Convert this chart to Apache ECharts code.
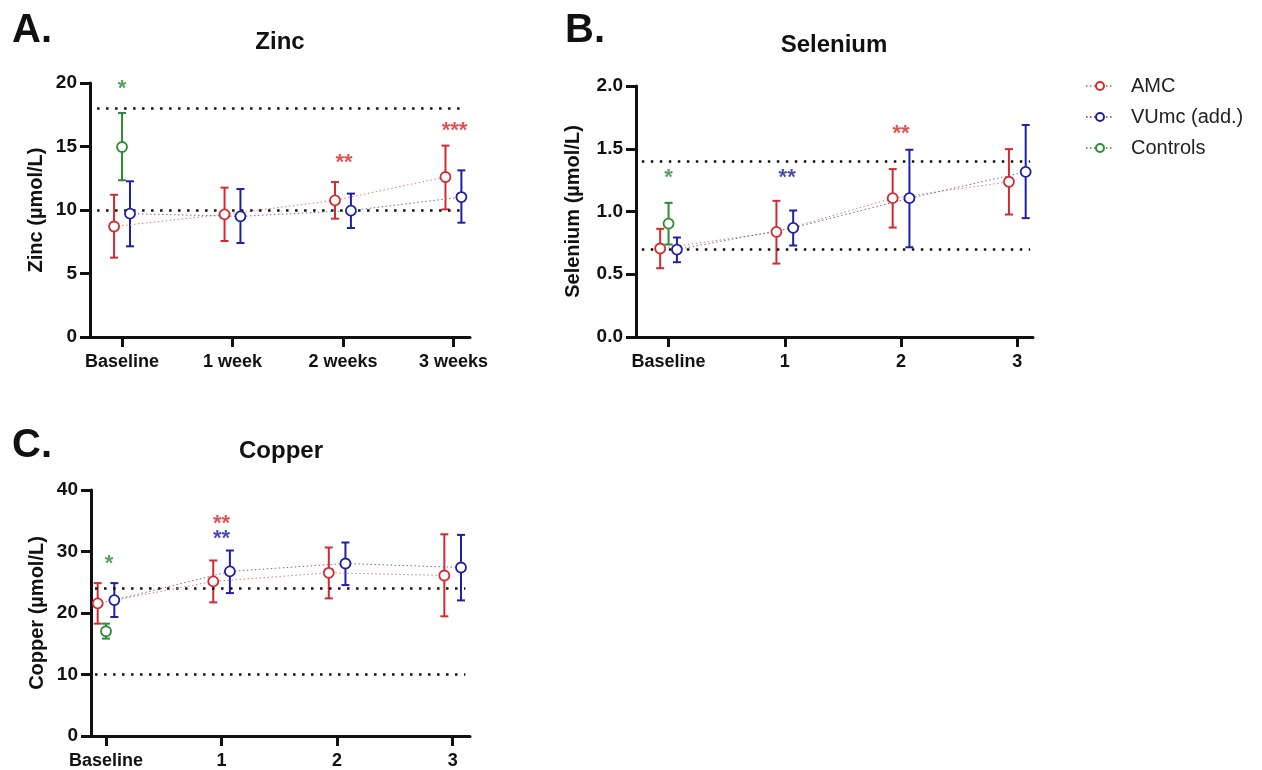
<!DOCTYPE html>
<html>
<head>
<meta charset="utf-8">
<script src="https://cdn.jsdelivr.net/npm/echarts@6/dist/echarts.min.js"></script>
<style>
  html, body { margin: 0; background: #fff; }
  #main { width: 1262px; height: 770px; }
</style>
</head>
<body>
<div id="main"></div>
<script>
var zincLabels = ['Baseline', '1 week', '2 weeks', '3 weeks'];
var weekLabels = ['Baseline', '1', '2', '3'];

// Zinc (umol/L): mean and error bar ends
var zincAMC = [8.7, 9.66, 10.76, 12.6];
var zincAMCLow = [6.25, 7.56, 9.32, 10.05];
var zincAMCHigh = [11.2, 11.76, 12.2, 15.07];
var zincVU = [9.71, 9.5, 9.95, 11.02];
var zincVULow = [7.14, 7.4, 8.58, 9.0];
var zincVUHigh = [12.26, 11.65, 11.29, 13.12];
var zincCtrl = [14.96];
var zincCtrlLow = [12.34];
var zincCtrlHigh = [17.64];
var zincRef = [10, 18];
// [position, y, text, group]
var zincStars = [[0, 19.9, '*', 'ctrl'], [2.01, 14.1, '**', 'amc'], [3.01, 16.6, '***', 'amc']];

// Selenium (umol/L)
var seAMC = [0.705, 0.838, 1.106, 1.237];
var seAMCLow = [0.548, 0.585, 0.872, 0.976];
var seAMCHigh = [0.862, 1.085, 1.338, 1.497];
var seVU = [0.697, 0.87, 1.106, 1.316];
var seVULow = [0.596, 0.729, 0.715, 0.947];
var seVUHigh = [0.793, 1.008, 1.492, 1.689];
var seCtrl = [0.904];
var seCtrlLow = [0.737];
var seCtrlHigh = [1.069];
var seRef = [0.7, 1.4];
var seStars = [[0, 1.31, '*', 'ctrl'], [1.02, 1.31, '**', 'vu'], [2.0, 1.654, '**', 'amc']];

// Copper (umol/L)
var cuAMC = [21.57, 25.14, 26.54, 26.1];
var cuAMCLow = [18.27, 21.73, 22.38, 19.46];
var cuAMCHigh = [24.86, 28.54, 30.65, 32.8];
var cuVU = [22.1, 26.76, 28.05, 27.4];
var cuVULow = [19.35, 23.24, 24.54, 22.05];
var cuVUHigh = [24.86, 30.16, 31.46, 32.7];
var cuCtrl = [17.03];
var cuCtrlLow = [15.84];
var cuCtrlHigh = [18.27];
var cuRef = [10, 24];
var cuStars = [[0.026, 28.76, '*', 'ctrl'], [1.0, 35.24, '**', 'amc'], [1.0, 32.86, '**', 'vu']];

var FONT = 'Arial, "Liberation Sans", Helvetica, sans-serif';
var INK = '#111';
var colors = { amc: '#d42a2f', vu: '#1f1fa6', ctrl: '#2e8a36' };
var lineColors = { amc: '#d48080', vu: '#7070a0', ctrl: '#6aa06a' };
var OFF = 0.072;

var panels = [
    { grid: { left: 90, top: 83, width: 380, height: 254 }, xMin: -0.29, xMax: 3.15, yMax: 20, step: 5, digits: 0,
      labels: zincLabels, yName: 'Zinc (µmol/L)', nameGap: 44, refSpan: [-0.226, 3.1], ref: zincRef, stars: zincStars,
      amc: [zincAMC, zincAMCLow, zincAMCHigh], vu: [zincVU, zincVULow, zincVUHigh], ctrl: [zincCtrl, zincCtrlLow, zincCtrlHigh] },
    { grid: { left: 636, top: 86, width: 397, height: 251 }, xMin: -0.28, xMax: 3.135, yMax: 2, step: 0.5, digits: 1,
      labels: weekLabels, yName: 'Selenium (µmol/L)', nameGap: 53, refSpan: [-0.23, 3.11], ref: seRef, stars: seStars,
      amc: [seAMC, seAMCLow, seAMCHigh], vu: [seVU, seVULow, seVUHigh], ctrl: [seCtrl, seCtrlLow, seCtrlHigh] },
    { grid: { left: 91, top: 490, width: 379, height: 247 }, xMin: -0.13, xMax: 3.15, yMax: 40, step: 10, digits: 0,
      labels: weekLabels, yName: 'Copper (µmol/L)', nameGap: 44, refSpan: [-0.095, 3.11], ref: cuRef, stars: cuStars,
      amc: [cuAMC, cuAMCLow, cuAMCHigh], vu: [cuVU, cuVULow, cuVUHigh], ctrl: [cuCtrl, cuCtrlLow, cuCtrlHigh] }
];

function errorBars(idx, xs, lows, highs, color) {
    return {
        type: 'custom',
        xAxisIndex: idx,
        yAxisIndex: idx,
        z: 3,
        silent: true,
        data: xs.map(function (x, i) { return [x, lows[i], highs[i]]; }),
        encode: { x: 0, y: [1, 2] },
        renderItem: function (params, api) {
            var top = api.coord([api.value(0), api.value(2)]);
            var bot = api.coord([api.value(0), api.value(1)]);
            var w = 4;
            var st = { stroke: color, lineWidth: 2 };
            return {
                type: 'group',
                children: [
                    { type: 'line', shape: { x1: top[0], y1: top[1], x2: bot[0], y2: bot[1] }, style: st },
                    { type: 'line', shape: { x1: top[0] - w, y1: top[1], x2: top[0] + w, y2: top[1] }, style: st },
                    { type: 'line', shape: { x1: bot[0] - w, y1: bot[1], x2: bot[0] + w, y2: bot[1] }, style: st }
                ]
            };
        }
    };
}

function meanLine(idx, name, xs, means, key) {
    return {
        type: 'line',
        name: name,
        xAxisIndex: idx,
        yAxisIndex: idx,
        z: 5,
        silent: true,
        data: xs.map(function (x, i) { return [x, means[i]]; }),
        symbol: 'circle',
        symbolSize: 10,
        itemStyle: { color: '#fff', borderColor: colors[key], borderWidth: 1.8 },
        lineStyle: { color: lineColors[key], width: 1, type: [1.5, 2.5] }
    };
}

var grids = [], xAxes = [], yAxes = [], series = [];

panels.forEach(function (p, idx) {
    grids.push(p.grid);
    xAxes.push({
        type: 'value', gridIndex: idx, min: p.xMin, max: p.xMax,
        axisLine: { onZero: false, lineStyle: { color: INK, width: 3 } },
        axisTick: { show: true, customValues: [0, 1, 2, 3], length: 10, lineStyle: { color: INK, width: 3 } },
        axisLabel: {
            customValues: [0, 1, 2, 3], margin: 16,
            formatter: function (v) { return p.labels[Math.round(v)]; },
            fontFamily: FONT, fontSize: 18, fontWeight: 'bold', color: INK
        },
        splitLine: { show: false }
    });
    yAxes.push({
        type: 'value', gridIndex: idx, min: 0, max: p.yMax, interval: p.step,
        name: p.yName, nameLocation: 'middle', nameGap: p.nameGap,
        nameTextStyle: { fontFamily: FONT, fontSize: 20, fontWeight: 'bold', color: INK },
        axisLine: { show: true, onZero: false, lineStyle: { color: INK, width: 3 } },
        axisTick: { show: true, length: 10, lineStyle: { color: INK, width: 3 } },
        axisLabel: {
            margin: 13, fontFamily: FONT, fontSize: 19, fontWeight: 'bold', color: INK,
            formatter: function (v) { return v.toFixed(p.digits); }
        },
        splitLine: { show: false }
    });

    // reference range
    series.push({
        type: 'line', xAxisIndex: idx, yAxisIndex: idx, data: [], z: 1,
        markLine: {
            silent: true, symbol: 'none', label: { show: false },
            lineStyle: { color: INK, width: 2.5, type: [2.5, 6.5] },
            data: p.ref.map(function (v) {
                return [{ coord: [p.refSpan[0], v] }, { coord: [p.refSpan[1], v] }];
            })
        }
    });

    var xsA = p.amc[0].map(function (v, i) { return i - OFF; });
    var xsV = p.vu[0].map(function (v, i) { return i + OFF; });
    var xsC = [0];

    series.push(errorBars(idx, xsA, p.amc[1], p.amc[2], colors.amc));
    series.push(errorBars(idx, xsV, p.vu[1], p.vu[2], colors.vu));
    series.push(errorBars(idx, xsC, p.ctrl[1], p.ctrl[2], colors.ctrl));
    series.push(meanLine(idx, 'AMC', xsA, p.amc[0], 'amc'));
    series.push(meanLine(idx, 'VUmc (add.)', xsV, p.vu[0], 'vu'));
    series.push(meanLine(idx, 'Controls', xsC, p.ctrl[0], 'ctrl'));

    // significance stars
    series.push({
        type: 'scatter', xAxisIndex: idx, yAxisIndex: idx, z: 6, silent: true,
        symbolSize: 1, itemStyle: { color: 'rgba(0,0,0,0)' },
        data: p.stars.map(function (s) {
            return { value: [s[0], s[1]], name: s[2], label: { color: colors[s[3]] } };
        }),
        label: {
            show: true, position: 'inside', offset: [0, 5],
            formatter: function (d) { return d.name; },
            fontFamily: FONT, fontSize: 22, fontWeight: 'bold'
        }
    });
});

var textItems = [
    ['A.', 12, 31, 40, 'left'], ['Zinc', 280, 42, 24, 'center'],
    ['B.', 565, 31, 40, 'left'], ['Selenium', 834, 45, 24, 'center'],
    ['C.', 12, 446, 40, 'left'], ['Copper', 281, 451, 24, 'center']
];

var chart = echarts.init(document.getElementById('main'));
chart.setOption({
    animation: false,
    backgroundColor: '#fff',
    grid: grids,
    xAxis: xAxes,
    yAxis: yAxes,
    legend: {
        data: ['AMC', 'VUmc (add.)', 'Controls'],
        orient: 'vertical', left: 1080, top: 71,
        itemWidth: 28, itemHeight: 10, itemGap: 11,
        selectedMode: false,
        textStyle: { fontFamily: FONT, fontSize: 20, color: '#222', padding: [0, 0, 0, 12] }
    },
    graphic: textItems.map(function (t) {
        return {
            type: 'text', x: t[1], y: t[2], silent: true,
            style: {
                text: t[0], fill: INK, align: t[4], verticalAlign: 'middle',
                font: 'bold ' + t[3] + 'px ' + FONT
            }
        };
    }),
    series: series
});
</script>
</body>
</html>
